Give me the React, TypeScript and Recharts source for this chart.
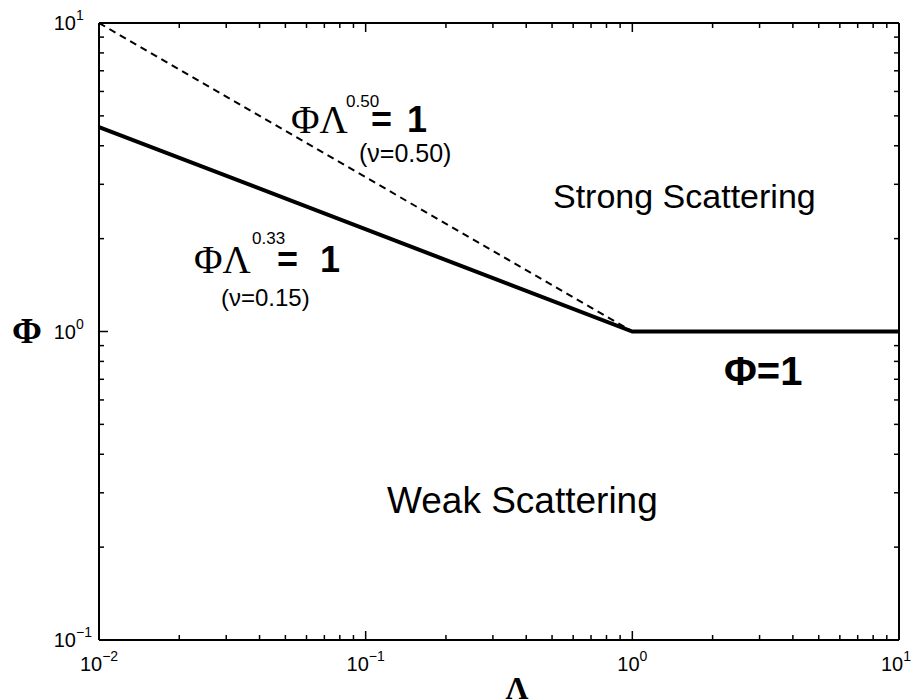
import React from 'react';
import { LineChart, Line, XAxis, YAxis } from 'recharts';

// --- data ---
// regime boundary: Phi * Lambda^0.33 = 1 for Lambda < 1, then Phi = 1
const boundaryLambda = [0.01, 1, 10];
const boundaryPhi = [4.6, 1, 1];
// dashed reference: Phi * Lambda^0.50 = 1
const halfLambda = [0.01, 1];
const halfPhi = [10, 1];

const lambdaDecades = [0.01, 0.1, 1];
const phiDecades = [0.1, 1];
const mantissas = [1, 2, 3, 4, 5, 6, 7, 8, 9];

const lambdaTicks = lambdaDecades.flatMap((d) => mantissas.map((m) => m * d)).concat([10]);
const phiTicks = phiDecades.flatMap((d) => mantissas.map((m) => m * d)).concat([10]);

const boundaryData = boundaryLambda.map((lambda, i) => ({ lambda, phi: boundaryPhi[i] }));
const halfData = halfLambda.map((lambda, i) => ({ lambda, phi: halfPhi[i] }));

const SANS = '"Liberation Sans", Arial, Helvetica, sans-serif';
const SERIF = '"Liberation Serif", "Times New Roman", serif';

type Side = 'bottom' | 'top' | 'left' | 'right';

const LogTick = (props: any) => {
  const { x, y, payload, side } = props as { x: number; y: number; payload: any; side: Side };
  const e = Math.log10(payload.value);
  const major = Math.abs(e - Math.round(e)) < 1e-6;
  const len = major ? 9 : 5;
  const exp = String(Math.round(e)).replace('-', '\u2212');

  if (side === 'bottom') {
    // last label sits against the right edge, nudge it in a little like the original
    const shift = payload.value >= 10 ? -3 : 0;
    return (
      <g>
        <line x1={x} y1={y} x2={x} y2={y - len} stroke="#000" strokeWidth={1.5} />
        {major && (
          <text x={x + shift} y={y + 31} textAnchor="middle" fontFamily={SANS} fontSize={20} fill="#000">
            10<tspan dy={-10} fontSize={14}>{exp}</tspan>
          </text>
        )}
      </g>
    );
  }
  if (side === 'top') {
    return <line x1={x} y1={y} x2={x} y2={y + len} stroke="#000" strokeWidth={1.5} />;
  }
  if (side === 'right') {
    return <line x1={x} y1={y} x2={x - len} y2={y} stroke="#000" strokeWidth={1.5} />;
  }
  return (
    <g>
      <line x1={x} y1={y} x2={x + len} y2={y} stroke="#000" strokeWidth={1.5} />
      {major && (
        <>
          <text x={x - 23} y={y + 7} textAnchor="end" fontFamily={SANS} fontSize={20} fill="#000">10</text>
          <text x={x - 23} y={y - 3} textAnchor="start" fontFamily={SANS} fontSize={14} fill="#000">{exp}</text>
        </>
      )}
    </g>
  );
};

const frame = { stroke: '#000', strokeWidth: 2 };

export default function App() {
  return (
    <div style={{ position: 'absolute', left: 0, top: 0, width: 912, height: 700, background: '#fff' }}>
      <LineChart width={912} height={700} margin={{ top: 0, right: 0, bottom: 0, left: 0 }}>
        <XAxis
          xAxisId="bottom"
          dataKey="lambda"
          type="number"
          scale="log"
          domain={[0.01, 10]}
          allowDataOverflow
          ticks={lambdaTicks}
          interval={0}
          height={60}
          tickSize={0}
          tickMargin={0}
          axisLine={frame}
          tick={(p: any) => <LogTick {...p} side="bottom" />}
        />
        <XAxis
          xAxisId="top"
          orientation="top"
          dataKey="lambda"
          type="number"
          scale="log"
          domain={[0.01, 10]}
          allowDataOverflow
          ticks={lambdaTicks}
          interval={0}
          height={23}
          tickSize={0}
          tickMargin={0}
          axisLine={frame}
          tick={(p: any) => <LogTick {...p} side="top" />}
        />
        <YAxis
          yAxisId="left"
          type="number"
          scale="log"
          domain={[0.1, 10]}
          allowDataOverflow
          ticks={phiTicks}
          interval={0}
          width={99}
          tickSize={0}
          tickMargin={0}
          axisLine={frame}
          tick={(p: any) => <LogTick {...p} side="left" />}
        />
        <YAxis
          yAxisId="right"
          orientation="right"
          type="number"
          scale="log"
          domain={[0.1, 10]}
          allowDataOverflow
          ticks={phiTicks}
          interval={0}
          width={13}
          tickSize={0}
          tickMargin={0}
          axisLine={frame}
          tick={(p: any) => <LogTick {...p} side="right" />}
        />
        <Line
          xAxisId="bottom"
          yAxisId="left"
          data={halfData}
          dataKey="phi"
          stroke="#000"
          strokeWidth={2}
          strokeDasharray="7 5"
          dot={false}
          isAnimationActive={false}
        />
        <Line
          xAxisId="bottom"
          yAxisId="left"
          data={boundaryData}
          dataKey="phi"
          stroke="#000"
          strokeWidth={4}
          dot={false}
          isAnimationActive={false}
        />
      </LineChart>

      {/* annotations */}
      <svg width={912} height={700} style={{ position: 'absolute', left: 0, top: 0, pointerEvents: 'none' }}>
        <text x={27} y={343} textAnchor="middle" fontFamily={SERIF} fontWeight="bold" fontSize={36} fill="#000">Φ</text>
        <text x={517} y={699} textAnchor="middle" fontFamily={SERIF} fontWeight="bold" fontSize={32} fill="#000">Λ</text>

        <text x={291} y={133} fontFamily={SERIF} fontSize={39} fill="#000">ΦΛ</text>
        <text x={346} y={107} fontFamily={SANS} fontSize={17} fill="#000">0.50</text>
        <text x={371} y={132} fontFamily={SANS} fontWeight="bold" fontSize={36} fill="#000">=</text>
        <text x={407} y={132} fontFamily={SANS} fontWeight="bold" fontSize={36} fill="#000">1</text>
        <text x={359} y={162} fontFamily={SANS} fontSize={25} fill="#000">(ν=0.50)</text>

        <text x={194} y={273} fontFamily={SERIF} fontSize={39} fill="#000">ΦΛ</text>
        <text x={252} y={244} fontFamily={SANS} fontSize={17} fill="#000">0.33</text>
        <text x={277} y={272} fontFamily={SANS} fontWeight="bold" fontSize={36} fill="#000">=</text>
        <text x={320} y={272} fontFamily={SANS} fontWeight="bold" fontSize={36} fill="#000">1</text>
        <text x={221} y={306} fontFamily={SANS} fontSize={24} fill="#000">(ν=0.15)</text>

        <text x={553} y={208} fontFamily={SANS} fontSize={34} fill="#000">Strong Scattering</text>
        <text x={387} y={513} fontFamily={SANS} fontSize={37} fill="#000">Weak Scattering</text>
        <text x={724} y={385} fontFamily={SANS} fontWeight="bold" fontSize={40} fill="#000">Φ=1</text>
      </svg>
    </div>
  );
}
